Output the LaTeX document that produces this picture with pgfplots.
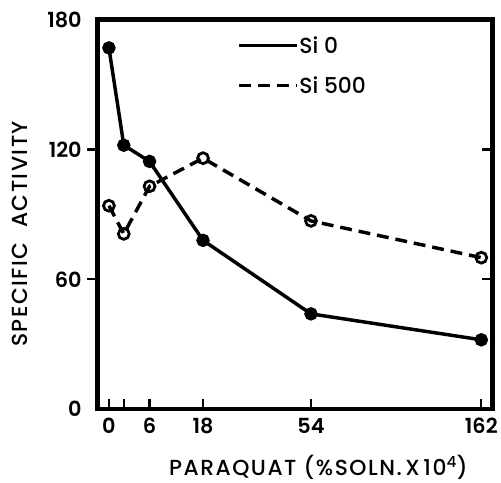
\documentclass[border=0pt]{standalone}
\usepackage{fontspec}
\setmainfont{Poppins}[UprightFont={Poppins Medium}, BoldFont={Poppins SemiBold}]
\usepackage{pgfplots}
\pgfplotsset{compat=1.18}

% x positions follow the original's uneven spacing: 0,2,6,18,54,162
\pgfplotstableread{
pos y
12  167
27  122
53  114.5
107 78
216 44
388 32
}\sizero
\pgfplotstableread{
pos y
12  94
27  81
53  103
107 116
216 87
388 70
}\sifivehundred

\newcommand{\lblfont}{\fontsize{22}{26}\selectfont\addfontfeatures{LetterSpace=7}}

\begin{document}
\begin{tikzpicture}
\begin{axis}[
    width=399pt, height=393pt, scale only axis,
    xmin=0, xmax=399, ymin=0, ymax=180,
    clip=false,
    tick style={black, line width=2.2pt},
    major tick length=10pt,
    tick align=inside,
    xtick pos=bottom, ytick pos=left,
    y tick style={draw=none},
    xtick={12,27,53,107,216,388},
    xticklabels={0,,6,18,54,162},
    ytick={0,60,120,180},
    /pgf/number format/assume math mode=true,
    tick label style={font=\fontsize{21}{24}\selectfont\bfseries},
    yticklabel style={xshift=-12pt},
    xticklabel style={yshift=-6pt},
    xlabel={PARAQUAT (\%SOLN.\,X\,10\textsuperscript{4})},
    xlabel style={at={(axis description cs:0.56,-0.17)}, anchor=base, font=\lblfont},
    ylabel={SPECIFIC\ \ ACTIVITY},
    ylabel style={at={(axis description cs:-0.195,0.45)}, anchor=center, font=\lblfont},
    legend style={at={(axis description cs:0.355,0.96)}, anchor=north west,
        draw=none, fill=none, inner xsep=0pt, inner ysep=0pt,
        font=\fontsize{22}{26}\selectfont, row sep=20pt,
        nodes={inner sep=1pt}},
    legend cell align=left,
    /tikz/every even column/.append style={column sep=3pt},
    legend image code/.code={\draw[#1] (0pt,0pt) -- (58pt,0pt);},
]
\addplot[black, line width=3.5pt, mark=*, mark size=5pt] table[x=pos, y=y] {\sizero};
\addlegendentry{Si 0}
\addplot[black, line width=3.5pt, dash pattern=on 12pt off 7pt, mark=o, mark size=5.5pt,
    mark options={solid, fill=white, line width=2.8pt}] table[x=pos, y=y] {\sifivehundred};
\addlegendentry{Si 500}
% heavy frame, outward ticks on the left and inward ticks on the right
\addplot[forget plot, black, line width=5pt, mark=none, line join=miter]
    coordinates {(0,0) (399,0) (399,180) (0,180)} -- cycle;
\addplot[forget plot, black, line width=2.2pt, mark=none] coordinates {(0,60) (-10,60)};
\addplot[forget plot, black, line width=2.2pt, mark=none] coordinates {(0,120) (-10,120)};
\addplot[forget plot, black, line width=2.2pt, mark=none] coordinates {(399,60) (389,60)};
\addplot[forget plot, black, line width=2.2pt, mark=none] coordinates {(399,120) (389,120)};
% page margins as in the original
\path (axis cs:0,0) ++(-98pt,-70pt);
\path (axis cs:399,180) ++(4pt,20pt);
\end{axis}
\end{tikzpicture}
\end{document}
